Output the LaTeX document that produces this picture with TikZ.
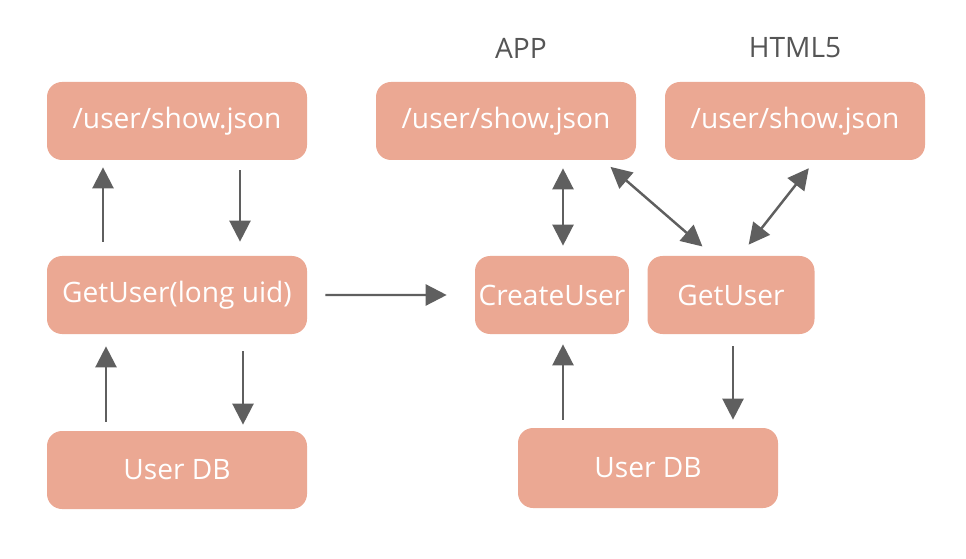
\documentclass[tikz,border=0pt]{standalone}
\usepackage{fontspec}
\setmainfont{Open Sans}
\usetikzlibrary{positioning,arrows.meta}
\definecolor{boxfill}{HTML}{EBA893}
\definecolor{arrowgray}{HTML}{5F5F5F}
\definecolor{headgray}{HTML}{555555}

\begin{document}
\begin{tikzpicture}[on grid ,
arr/.style ={-{Triangle[length=0.42cm,width=0.42cm]}, line width=1.4pt, draw=arrowgray, fill=arrowgray},
darr/.style ={{Triangle[length=0.42cm,width=0.42cm]}-{Triangle[length=0.42cm,width=0.42cm]}, line width=1.4pt, draw=arrowgray, fill=arrowgray},
box/.style ={ rectangle, rounded corners=0.3cm, fill=boxfill, text=white, inner xsep=2pt,
minimum width =5.2cm, minimum height =1.56cm, font=\fontsize{16}{19}\selectfont},
head/.style ={text=headgray, font=\fontsize{16}{19}\selectfont}]
\useasboundingbox (0,0) rectangle (19.32,-11.18);
% left column
\node[box] (jsonL) at (3.54,-2.42) {/user/show.json};
\node[box] (getL) [below = 3.48cm of jsonL] {GetUser(long uid)};
\node[box] (dbL) [below = 3.5cm of getL] {User DB};
% right side
\node[box] (jsonA) at (10.12,-2.42) {/user/show.json};
\node[box] (jsonH) [right = 5.78cm of jsonA] {/user/show.json};
\node[head] (app) [above right = 1.46cm and 0.3cm of jsonA] {APP};
\node[head] (html) [above = 1.46cm of jsonH] {HTML5};
\node[box, minimum width=3.06cm] (create) at (11.04,-5.9) {CreateUser};
\node[box, minimum width=3.34cm] (get) [right = 3.58cm of create] {GetUser};
\node[box, minimum height=1.6cm] (dbR) at (12.96,-9.36) {User DB};
% left arrows
\draw[arr, shorten <=0.28cm, shorten >=0.14cm] ([xshift=-1.48cm]getL.north) -- ([xshift=-1.48cm]jsonL.south);
\draw[arr, shorten <=0.2cm, shorten >=0.28cm] ([xshift=1.26cm]jsonL.south) -- ([xshift=1.26cm]getL.north);
\draw[arr, shorten <=0.18cm, shorten >=0.24cm] ([xshift=-1.42cm]dbL.north) -- ([xshift=-1.42cm]getL.south);
\draw[arr, shorten <=0.34cm, shorten >=0.12cm] ([xshift=1.32cm]getL.south) -- ([xshift=1.32cm]dbL.north);
\draw[arr, shorten <=0.36cm, shorten >=0.56cm] (getL.east) -- (create.west);
% right arrows
\draw[darr, shorten <=0.2cm, shorten >=0.16cm] ([xshift=0.22cm]create.north) -- ([xshift=0.22cm]create.north |- jsonA.south);
\draw[darr, shorten <=0.2cm, shorten >=0.28cm] ([xshift=1.94cm]jsonA.south) -- ([xshift=-0.36cm]get.north);
\draw[darr, shorten <=0.2cm, shorten >=0.28cm] ([xshift=0.4cm]jsonH.south) -- ([xshift=0.18cm]get.north);
\draw[arr, shorten <=0.16cm, shorten >=0.2cm] ([xshift=0.22cm]create.south |- dbR.north) -- ([xshift=0.22cm]create.south);
\draw[arr, shorten <=0.24cm, shorten >=0.16cm] ([xshift=0.04cm]get.south) -- ([xshift=0.04cm]get.south |- dbR.north);
\end{tikzpicture}
\end{document}
